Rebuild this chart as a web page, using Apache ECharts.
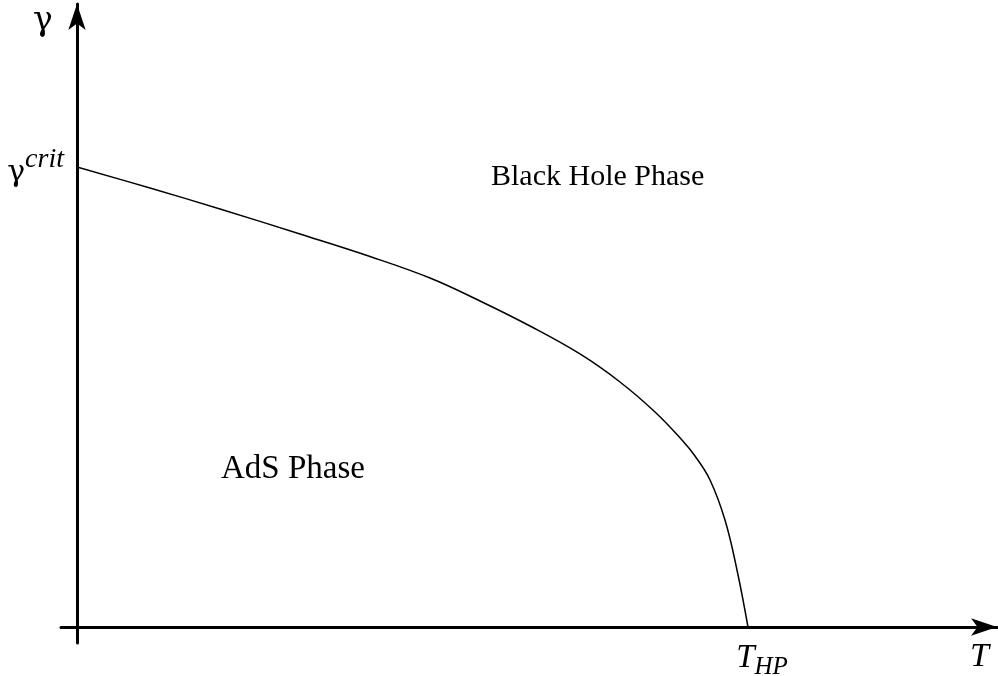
<!DOCTYPE html>
<html>
<head>
<meta charset="utf-8">
<script src="https://cdn.jsdelivr.net/npm/echarts@6/dist/echarts.min.js"></script>
<style>
  html, body { margin: 0; padding: 0; background: #fff; }
  #chart { width: 998px; height: 676px; }
</style>
</head>
<body>
<div id="chart"></div>
<script>
// phase boundary, T in units of T_HP, gamma in units of gamma_crit
var tValues     = [0, 0.1088, 0.2131, 0.3323, 0.4367, 0.5261, 0.6006, 0.6751, 0.7496, 0.8092, 0.8614, 0.9016, 0.9210, 0.9434, 0.9657, 0.9836, 1.0];
var gammaValues = [1.0, 0.9543, 0.9087, 0.8543, 0.8054, 0.7587, 0.7087, 0.6543, 0.5935, 0.5326, 0.4674, 0.4065, 0.3717, 0.3196, 0.2326, 0.1239, 0];
var xTicks = [1];
var yTicks = [1];
var regionLabels = ['Black Hole Phase', 'AdS Phase'];

var serif = '"Liberation Serif", "DejaVu Serif", serif';
var greek = '"DejaVu Serif", "Liberation Serif", serif';

var boundary = tValues.map(function(t, i) { return [t, gammaValues[i]]; });

echarts.init(document.getElementById('chart')).setOption({
	backgroundColor: '#fff',
	animation: false,
	grid: { left: 61, right: 1, top: 4, bottom: 33, containLabel: false, outerBoundsMode: 'none' },
	xAxis: {
		type: 'value',
		min: -0.02385,
		max: 1.3711,
		splitLine: { show: false },
		axisTick: { show: false },
		axisLine: {
			onZero: true,
			symbol: ['none', 'arrow'],
			symbolSize: [13, 26],
			lineStyle: { color: '#000', width: 3 }
		},
		axisLabel: {
			customValues: xTicks,
			margin: -1,
			padding: [0, 0, 0, 28],
			formatter: function() { return '{t|T}{sub|HP}'; },
			rich: {
				t: { fontFamily: serif, fontStyle: 'italic', fontSize: 33, color: '#000', verticalAlign: 'top', padding: [0, 0, 5, 0] },
				sub: { fontFamily: serif, fontStyle: 'italic', fontSize: 25, color: '#000', verticalAlign: 'bottom' }
			}
		}
	},
	yAxis: {
		type: 'value',
		min: -0.03478,
		max: 1.3543,
		splitLine: { show: false },
		axisTick: { show: false },
		axisLine: {
			onZero: true,
			symbol: ['none', 'arrow'],
			symbolSize: [13, 26],
			lineStyle: { color: '#000', width: 3 }
		},
		axisLabel: {
			customValues: yTicks,
			margin: -3,
			formatter: function() { return '{g|γ}{sup|crit}'; },
			rich: {
				g: { fontFamily: greek, fontSize: 30, color: '#000', verticalAlign: 'bottom', padding: [12, 0, 0, 0] },
				sup: { fontFamily: serif, fontStyle: 'italic', fontSize: 28, color: '#000', verticalAlign: 'top' }
			}
		}
	},
	graphic: [
		{ type: 'text', left: 33, top: 5, style: { text: 'γ', font: '33px ' + greek, fill: '#000' } },
		{ type: 'text', left: 970, top: 640, style: { text: 'T', font: 'italic 34px ' + serif, fill: '#000' } },
		{ type: 'text', left: 491, top: 162, style: { text: regionLabels[0], font: '30px ' + serif, fill: '#000' } },
		{ type: 'text', left: 221, top: 453, style: { text: regionLabels[1], font: '33px ' + serif, fill: '#000' } }
	],
	series: [{
		type: 'line',
		data: boundary,
		smooth: 0.4,
		showSymbol: false,
		lineStyle: { color: '#000', width: 1.5 }
	}]
});
</script>
</body>
</html>
